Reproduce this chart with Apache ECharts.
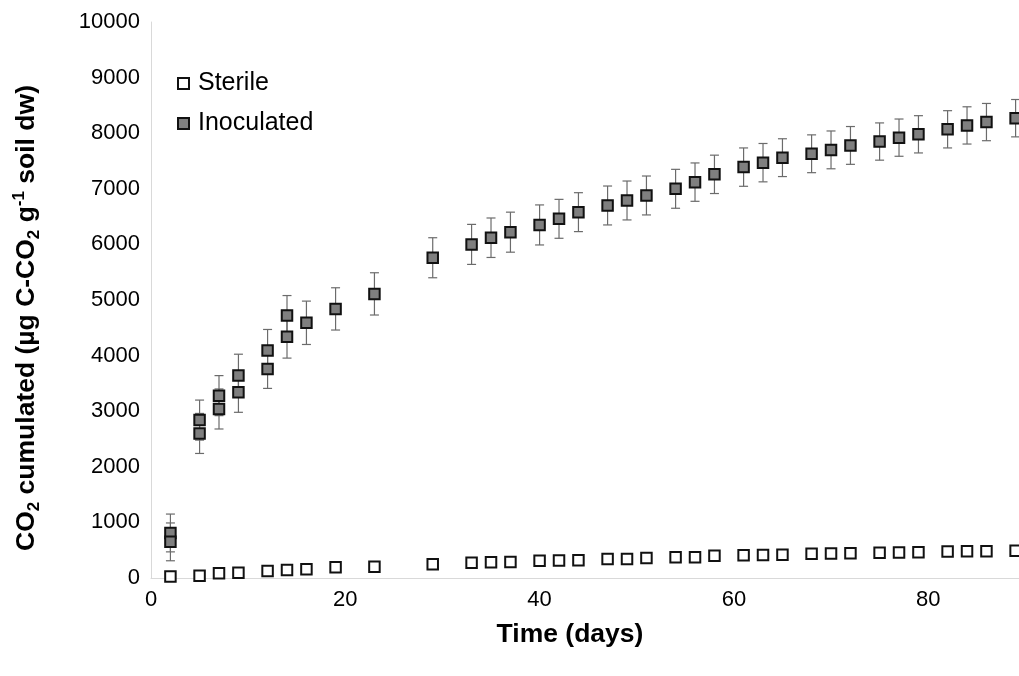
<!DOCTYPE html>
<html>
<head>
<meta charset="utf-8">
<script src="https://cdn.jsdelivr.net/npm/echarts@6/dist/echarts.min.js"></script>
<style>html,body{margin:0;padding:0;background:#fff}#c{width:1019px;height:676px}</style>
</head>
<body>
<div id="c"></div>
<script>
// Data
const sterileDays = [2,5,7,9,12,14,16,19,23,29,33,35,37,40,42,44,47,49,51,54,56,58,61,63,65,68,70,72,75,77,79,82,84,86,89];
const sterileValues = [25,40,84,96,126,144,157,193,203,247,275,283,288,311,315,319,342,342,360,373,373,400,410,415,420,435,440,445,455,460,465,475,480,480,490];

const inocDays = [2,2,5,5,7,7,9,9,12,12,14,14,16,19,23,29,33,35,37,40,42,44,47,49,51,54,56,58,61,63,65,68,70,72,75,77,79,82,84,86,89];
const inocValues = [810,650,2840,2600,3280,3040,3640,3340,4090,3760,4720,4340,4590,4840,5110,5760,6000,6120,6220,6350,6460,6580,6700,6790,6880,7000,7120,7260,7390,7470,7560,7630,7700,7780,7850,7920,7980,8070,8140,8200,8270];
const inocErrors = [340,340,360,360,360,360,385,360,380,350,360,385,390,380,380,360,360,355,360,360,350,350,350,350,350,350,345,345,345,345,340,340,340,340,335,335,335,335,335,335,336];

// x axis is cut at the right edge of the picture (~day 89.35)
const xTicks = {min: 0, max: 89.35, interval: 20};
const yTicks = {min: 0, max: 10000, interval: 1000};

const FONT = "'Liberation Sans', Arial, sans-serif";

const sterileData = sterileDays.map((d, i) => [d, sterileValues[i]]);
const inocData = inocDays.map((d, i) => [d, inocValues[i]]);
const errData = inocDays.map((d, i) => [d, inocValues[i] - inocErrors[i], inocValues[i] + inocErrors[i]]);

const chart = echarts.init(document.getElementById('c'));
const errColor = '#6b6b6b';
chart.setOption({
  animation: false,
  backgroundColor: '#fff',
  textStyle: {fontFamily: FONT},
  grid: {left: 151, right: 0, top: 22, bottom: 98, containLabel: false},
  legend: {
    orient: 'vertical', left: 172, top: 66, itemWidth: 11, itemHeight: 11, itemGap: 15,
    textStyle: {fontSize: 25, color: '#000', fontFamily: FONT, padding: [0, 0, 0, 4]},
    data: [{name: 'Sterile', icon: 'rect'}, {name: 'Inoculated', icon: 'rect'}]
  },
  xAxis: {
    type: 'value', min: xTicks.min, max: xTicks.max, interval: xTicks.interval,
    name: 'Time (days)', nameLocation: 'middle', nameGap: 43,
    nameTextStyle: {fontSize: 26.5, fontWeight: 'bold', color: '#000', fontFamily: FONT, padding: [0, 30, 0, 0]},
    axisLine: {show: true, lineStyle: {color: '#d9d9d9', width: 1}},
    axisTick: {show: false},
    splitLine: {show: false},
    axisLabel: {fontSize: 22, color: '#000', margin: 11, fontFamily: FONT, showMaxLabel: false,
      formatter: v => String(v)}
  },
  yAxis: {
    type: 'value', min: yTicks.min, max: yTicks.max, interval: yTicks.interval,
    name: '{b|CO}{sub|2}{b| cumulated (µg C-CO}{sub|2}{b| g}{sup|-1}{b| soil dw)}',
    nameLocation: 'middle', nameGap: 108,
    nameTextStyle: {
      color: '#000', fontFamily: FONT, padding: [0, 36, 0, 0],
      rich: {
        b: {fontSize: 26.5, fontWeight: 'bold', lineHeight: 32, color: '#000', fontFamily: FONT},
        sub: {fontSize: 17, fontWeight: 'bold', lineHeight: 18, verticalAlign: 'bottom', color: '#000', fontFamily: FONT},
        sup: {fontSize: 17, fontWeight: 'bold', lineHeight: 18, verticalAlign: 'top', color: '#000', fontFamily: FONT}
      }
    },
    axisLine: {show: true, lineStyle: {color: '#d9d9d9', width: 1}},
    axisTick: {show: false},
    splitLine: {show: false},
    axisLabel: {fontSize: 22, color: '#000', margin: 11, fontFamily: FONT, formatter: v => String(v)}
  },
  series: [
    {
      type: 'custom', name: 'err', silent: true, z: 1,
      encode: {x: 0, y: [1, 2]},
      data: errData,
      renderItem: function (params, api) {
        const x = api.value(0);
        const top = api.coord([x, api.value(2)]);
        const bot = api.coord([x, api.value(1)]);
        const hw = 4.5;
        const st = {stroke: errColor, lineWidth: 1.2};
        return {
          type: 'group',
          children: [
            {type: 'line', shape: {x1: top[0], y1: top[1], x2: bot[0], y2: bot[1]}, style: st},
            {type: 'line', shape: {x1: top[0] - hw, y1: top[1], x2: top[0] + hw, y2: top[1]}, style: st},
            {type: 'line', shape: {x1: bot[0] - hw, y1: bot[1], x2: bot[0] + hw, y2: bot[1]}, style: st}
          ]
        };
      }
    },
    {
      type: 'scatter', name: 'Sterile', symbol: 'rect', symbolSize: 10.5, z: 3,
      itemStyle: {color: '#ffffff', borderColor: '#111', borderWidth: 2, opacity: 1},
      data: sterileData
    },
    {
      type: 'scatter', name: 'Inoculated', symbol: 'rect', symbolSize: 10.5, z: 3,
      itemStyle: {color: '#7f7f7f', borderColor: '#111', borderWidth: 2, opacity: 1},
      data: inocData
    }
  ]
});
</script>
</body>
</html>
